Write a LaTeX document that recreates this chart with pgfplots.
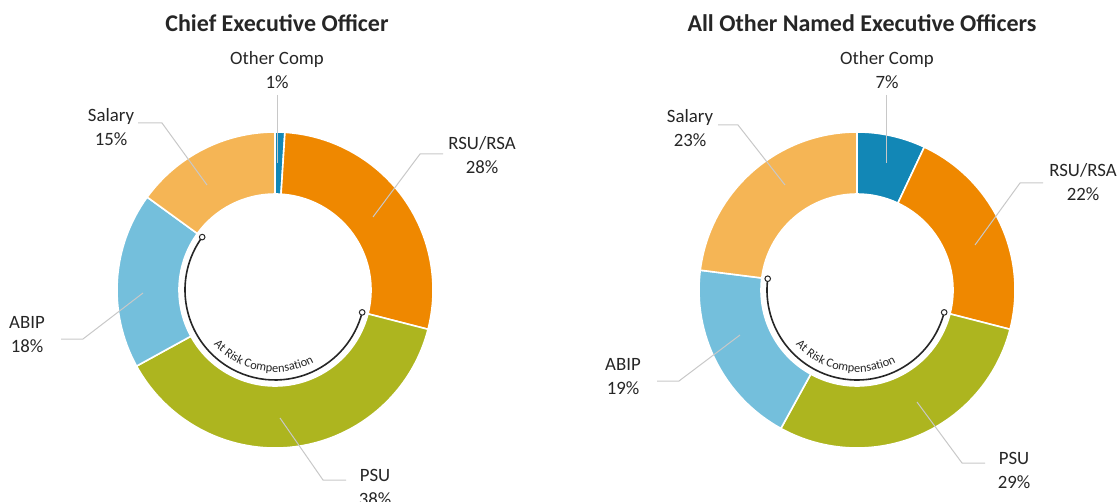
\documentclass[border=0pt]{standalone}
\usepackage{pgfplots}
\pgfplotsset{compat=1.18}
\usepackage{pgfplotstable}
\usepackage{fontspec}
\setmainfont{Carlito}
\usetikzlibrary{decorations.text}

\definecolor{cOther}{RGB}{18,135,182}
\definecolor{cRSU}{RGB}{239,136,0}
\definecolor{cPSU}{RGB}{173,181,31}
\definecolor{cABIP}{RGB}{116,191,220}
\definecolor{cSalary}{RGB}{245,181,85}
\definecolor{txt}{RGB}{38,38,38}
\definecolor{lead}{RGB}{200,200,200}

% share of pay, clockwise from 12 o'clock
\pgfplotstableread[col sep=comma,row sep=\\]{
part,value,color\\
Other Comp,1,cOther\\
RSU/RSA,28,cRSU\\
PSU,38,cPSU\\
ABIP,18,cABIP\\
Salary,15,cSalary\\
}\ceo
\pgfplotstableread[col sep=comma,row sep=\\]{
part,value,color\\
Other Comp,7,cOther\\
RSU/RSA,22,cRSU\\
PSU,29,cPSU\\
ABIP,19,cABIP\\
Salary,23,cSalary\\
}\neo

% #1 table, #2 #3 centre (px)
\newcommand\donut[3]{%
  \def\astart{90}%
  \pgfplotsforeachungrouped \i in {0,...,4}{%
    \pgfplotstablegetelem{\i}{value}\of#1\let\v\pgfplotsretval
    \pgfplotstablegetelem{\i}{color}\of#1\let\col\pgfplotsretval
    \pgfmathsetmacro\aend{\astart-3.6*\v}%
    \edef\cmd{\noexpand\fill[fill=\col,draw=white,line width=0.8pt,shift={(axis cs:#2,#3)}]
      (\astart:79pt) arc[start angle=\astart,end angle=\aend,radius=79pt]
      -- (\aend:48pt) arc[start angle=\aend,end angle=\astart,radius=48pt] -- cycle;}%
    \cmd
    \ifnum\i=1 \let\pA\aend\fi
    \ifnum\i=3 \let\pB\aend\fi
    \let\astart\aend
  }%
  % at risk bracket: PSU + ABIP
  \edef\cmd{\noexpand\draw[line width=0.8pt,draw=txt,shift={(axis cs:#2,#3)}]
      (\pB:45pt) arc[start angle=\pB,end angle=\pA,radius=45pt];
    \noexpand\filldraw[fill=white,draw=txt,line width=0.5pt,shift={(axis cs:#2,#3)}]
      (\pB:45pt) circle[radius=1.4pt] (\pA:45pt) circle[radius=1.4pt];}%
  \cmd
  \path[shift={(axis cs:#2,#3)},decorate,decoration={text along path,text align=center,
      text={|\fontsize{6.2}{7}\selectfont\color{txt}|At Risk Compensation}}]
      (220:41pt) arc[start angle=220,end angle=300,radius=41pt];
}

\tikzset{
  lbl/.style={align=center,font=\fontsize{9.4}{12}\selectfont,text=txt,inner sep=0pt},
  ttl/.style={font=\fontsize{12}{14}\selectfont\bfseries,text=txt,inner sep=0pt},
  ldr/.style={draw=lead,line width=0.5pt},
}

\begin{document}
\begin{tikzpicture}
\begin{axis}[
  x=0.5pt, y=0.5pt,
  xmin=0, xmax=1119, ymin=0, ymax=502,
  y dir=reverse,
  hide axis, clip=false,
]
\donut{\ceo}{275}{290}
\donut{\neo}{857}{290}

% leader lines
\draw[ldr] (axis cs:277,95) -- (axis cs:277,163);
\draw[ldr] (axis cs:138,123) -- (axis cs:162,123) -- (axis cs:207,185);
\draw[ldr] (axis cs:443,154) -- (axis cs:420,154) -- (axis cs:373,217);
\draw[ldr] (axis cs:61,339) -- (axis cs:83,339) -- (axis cs:143,293);
\draw[ldr] (axis cs:346,480) -- (axis cs:323,480) -- (axis cs:280,418);

\draw[ldr] (axis cs:886,95) -- (axis cs:886,163);
\draw[ldr] (axis cs:718,125) -- (axis cs:738,125) -- (axis cs:785,185);
\draw[ldr] (axis cs:1043,183) -- (axis cs:1020,183) -- (axis cs:975,245);
\draw[ldr] (axis cs:657,381) -- (axis cs:679,381) -- (axis cs:740,335);
\draw[ldr] (axis cs:985,463) -- (axis cs:962,463) -- (axis cs:917,402);

% labels
\node[ttl] at (axis cs:277,23) {Chief Executive Officer};
\node[ttl] at (axis cs:862,23) {All Other Named Executive Officers};

\node[lbl] at (axis cs:277,70) {Other Comp\\1\%};
\node[lbl] at (axis cs:111,127) {Salary\\15\%};
\node[lbl] at (axis cs:482,155) {RSU/RSA\\28\%};
\node[lbl] at (axis cs:27,335) {ABIP\\18\%};
\node[lbl] at (axis cs:375,487) {PSU\\38\%};

\node[lbl] at (axis cs:887,70) {Other Comp\\7\%};
\node[lbl] at (axis cs:690,128) {Salary\\23\%};
\node[lbl] at (axis cs:1083,182) {RSU/RSA\\22\%};
\node[lbl] at (axis cs:623,377) {ABIP\\19\%};
\node[lbl] at (axis cs:1014,470) {PSU\\29\%};

\coordinate (SW) at (axis cs:0,502);
\coordinate (NE) at (axis cs:1119,0);
\end{axis}
\pgfresetboundingbox
\path (SW) rectangle (NE);
\end{tikzpicture}
\end{document}
